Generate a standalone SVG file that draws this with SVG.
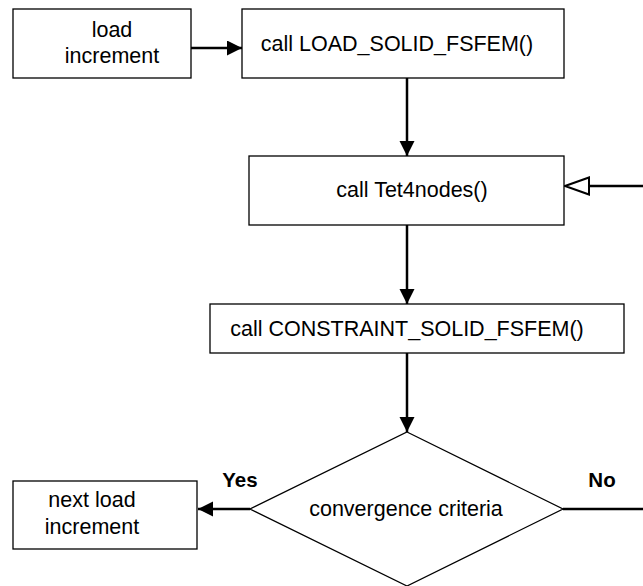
<svg xmlns="http://www.w3.org/2000/svg" width="643" height="586" viewBox="0 0 643 586">
  <style>
    .box { fill: #ffffff; stroke: #000000; stroke-width: 1.3; }
    .wire { fill: none; stroke: #000000; stroke-width: 2.5; }
    .label { font-family: "Liberation Sans", Arial, sans-serif; font-size: 21.5px; fill: #000000; text-anchor: middle; }
    .tag { font-family: "Liberation Sans", Arial, sans-serif; font-size: 20.5px; font-weight: bold; fill: #000000; text-anchor: middle; }
  </style>
  <defs>
    <marker id="solid" markerUnits="userSpaceOnUse" markerWidth="16" markerHeight="16" refX="15" refY="7.5" orient="auto">
      <path d="M0,0 L15,7.5 L0,15 Z" fill="#000000"/>
    </marker>
  </defs>
  <rect width="643" height="586" fill="#ffffff"/>

  <g id="connectors">
    <line class="wire" x1="191" y1="48" x2="242" y2="48" marker-end="url(#solid)"/>
    <line class="wire" x1="407" y1="78" x2="407" y2="156" marker-end="url(#solid)"/>
    <line class="wire" x1="407" y1="225" x2="407" y2="304" marker-end="url(#solid)"/>
    <line class="wire" x1="407" y1="353" x2="407" y2="432" marker-end="url(#solid)"/>
    <line class="wire" x1="250" y1="509" x2="198" y2="509" marker-end="url(#solid)"/>
    <line class="wire" x1="563" y1="509" x2="643" y2="509"/>
    <line class="wire" x1="589" y1="186" x2="643" y2="186"/>
    <!-- hollow head on the return into Tet4nodes -->
    <path d="M565,186 L589,177.5 L589,194.5 Z" fill="#ffffff" stroke="#000000" stroke-width="2"/>
  </g>

  <g id="load-increment">
    <rect class="box" x="13" y="9" width="178" height="69"/>
    <text class="label" x="112" y="37">load</text>
    <text class="label" x="112" y="63">increment</text>
  </g>

  <g id="load-solid">
    <rect class="box" x="242" y="9" width="322" height="69"/>
    <text class="label" x="397" y="51">call LOAD_SOLID_FSFEM()</text>
  </g>

  <g id="tet4nodes">
    <rect class="box" x="249" y="156" width="315" height="69"/>
    <text class="label" x="412" y="197">call Tet4nodes()</text>
  </g>

  <g id="constraint-solid">
    <rect class="box" x="210" y="304" width="414" height="49"/>
    <text class="label" x="407" y="336">call CONSTRAINT_SOLID_FSFEM()</text>
  </g>

  <g id="convergence">
    <path class="box" d="M407,432 L563,509 L407,586 L250,509 Z"/>
    <text class="label" x="406" y="516">convergence criteria</text>
  </g>

  <g id="next-load-increment">
    <rect class="box" x="13" y="481" width="184" height="68"/>
    <text class="label" x="92" y="507">next load</text>
    <text class="label" x="92" y="534">increment</text>
  </g>

  <g id="branch-labels">
    <text class="tag" x="240" y="487">Yes</text>
    <text class="tag" x="602" y="487">No</text>
  </g>
</svg>
